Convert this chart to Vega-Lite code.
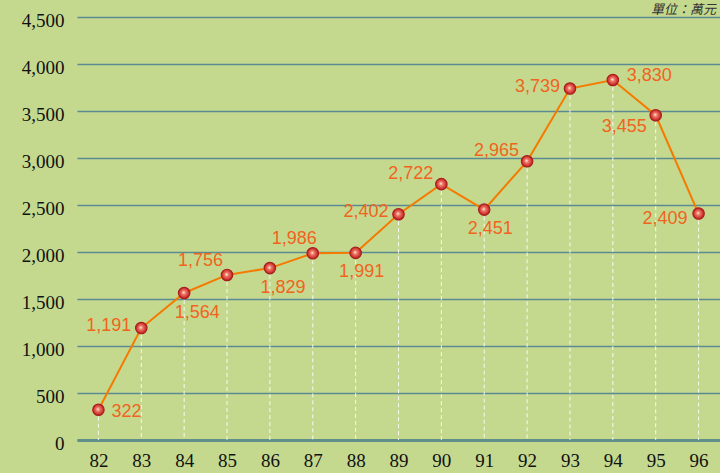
{
  "$schema": "https://vega.github.io/schema/vega-lite/v6.json",
  "width": 643,
  "height": 423,
  "autosize": {"type": "none"},
  "padding": {"left": 77, "top": 17, "right": 0, "bottom": 33},
  "background": "#c5d98e",
  "title": {"text": "單位：萬元", "anchor": "end", "orient": "top", "frame": "group", "font": "Noto Sans CJK TC", "fontSize": 13, "fontWeight": "normal", "fontStyle": "italic", "color": "#333333", "offset": 0, "baseline": "bottom", "dx": -4, "dy": 19},
  "config": {"view": {"stroke": null}},
  "data": {"values": [
    {"year": "82", "value": 322},
    {"year": "83", "value": 1191},
    {"year": "84", "value": 1564},
    {"year": "85", "value": 1756},
    {"year": "86", "value": 1829},
    {"year": "87", "value": 1986},
    {"year": "88", "value": 1991},
    {"year": "89", "value": 2402},
    {"year": "90", "value": 2722},
    {"year": "91", "value": 2451},
    {"year": "92", "value": 2965},
    {"year": "93", "value": 3739},
    {"year": "94", "value": 3830},
    {"year": "95", "value": 3455},
    {"year": "96", "value": 2409}
  ]},
  "encoding": {
    "x": {"field": "year", "type": "ordinal", "scale": {"type": "point", "padding": 0.5},
      "axis": {"title": null, "labelAngle": 0, "labelFont": "Liberation Serif", "labelFontSize": 19, "labelColor": "#111111", "labelPadding": 11, "ticks": false, "domain": true, "domainColor": "#5f8f88", "domainWidth": 3, "grid": false}},
    "y": {"field": "value", "type": "quantitative", "scale": {"domain": [0, 4500]},
      "axis": {"title": null, "values": [0, 500, 1000, 1500, 2000, 2500, 3000, 3500, 4000, 4500], "format": ",d", "labelFont": "Liberation Serif", "labelFontSize": 19, "labelColor": "#111111", "labelPadding": 13, "labelOffset": 3, "ticks": false, "domain": false, "grid": true, "gridColor": "#5b8a93", "gridWidth": 1.6}}
  },
  "layer": [
    {"mark": {"type": "rule", "color": "#ffffff", "strokeDash": [4, 3], "strokeWidth": 1, "opacity": 0.85},
     "encoding": {"y2": {"datum": 0}}},
    {"mark": {"type": "line", "color": "#f47a00", "strokeWidth": 2}},
    {"mark": {"type": "point", "filled": true, "size": 130, "opacity": 1, "stroke": "#a81e1e", "strokeWidth": 1.2,
      "fill": {"gradient": "radial", "x1": 0.45, "y1": 0.45, "r1": 0, "x2": 0.5, "y2": 0.5, "r2": 0.55,
        "stops": [{"offset": 0, "color": "#fff2e6"}, {"offset": 0.3, "color": "#ee7a66"}, {"offset": 0.75, "color": "#cf3330"}, {"offset": 1, "color": "#b02222"}]}}},
    {"transform": [{"filter": {"field": "year", "oneOf": ["82"]}}],
     "mark": {"type": "text", "align": "left", "baseline": "middle", "dx": 13, "dy": 2, "font": "Liberation Sans", "fontSize": 18, "color": "#f0641e"},
     "encoding": {"text": {"field": "value", "format": ","}}},
    {"transform": [{"filter": {"field": "year", "oneOf": ["94"]}}],
     "mark": {"type": "text", "align": "left", "baseline": "middle", "dx": 14, "dy": -4, "font": "Liberation Sans", "fontSize": 18, "color": "#f0641e"},
     "encoding": {"text": {"field": "value", "format": ","}}},
    {"transform": [{"filter": {"field": "year", "oneOf": ["83", "89", "93"]}}],
     "mark": {"type": "text", "align": "right", "baseline": "middle", "dx": -10, "dy": -2, "font": "Liberation Sans", "fontSize": 18, "color": "#f0641e"},
     "encoding": {"text": {"field": "value", "format": ","}}},
    {"transform": [{"filter": {"field": "year", "oneOf": ["96"]}}],
     "mark": {"type": "text", "align": "right", "baseline": "middle", "dx": -11, "dy": 5, "font": "Liberation Sans", "fontSize": 18, "color": "#f0641e"},
     "encoding": {"text": {"field": "value", "format": ","}}},
    {"transform": [{"filter": {"field": "year", "oneOf": ["85"]}}],
     "mark": {"type": "text", "align": "right", "baseline": "middle", "dx": -4, "dy": -14, "font": "Liberation Sans", "fontSize": 18, "color": "#f0641e"},
     "encoding": {"text": {"field": "value", "format": ","}}},
    {"transform": [{"filter": {"field": "year", "oneOf": ["87"]}}],
     "mark": {"type": "text", "align": "right", "baseline": "middle", "dx": 4, "dy": -14, "font": "Liberation Sans", "fontSize": 18, "color": "#f0641e"},
     "encoding": {"text": {"field": "value", "format": ","}}},
    {"transform": [{"filter": {"field": "year", "oneOf": ["90", "92"]}}],
     "mark": {"type": "text", "align": "right", "baseline": "middle", "dx": -8, "dy": -10, "font": "Liberation Sans", "fontSize": 18, "color": "#f0641e"},
     "encoding": {"text": {"field": "value", "format": ","}}},
    {"transform": [{"filter": {"field": "year", "oneOf": ["84", "86"]}}],
     "mark": {"type": "text", "align": "center", "baseline": "middle", "dx": 13, "dy": 20, "font": "Liberation Sans", "fontSize": 18, "color": "#f0641e"},
     "encoding": {"text": {"field": "value", "format": ","}}},
    {"transform": [{"filter": {"field": "year", "oneOf": ["88", "91"]}}],
     "mark": {"type": "text", "align": "center", "baseline": "middle", "dx": 6, "dy": 19, "font": "Liberation Sans", "fontSize": 18, "color": "#f0641e"},
     "encoding": {"text": {"field": "value", "format": ","}}},
    {"transform": [{"filter": {"field": "year", "oneOf": ["95"]}}],
     "mark": {"type": "text", "align": "right", "baseline": "middle", "dx": -9, "dy": 12, "font": "Liberation Sans", "fontSize": 18, "color": "#f0641e"},
     "encoding": {"text": {"field": "value", "format": ","}}}
  ]
}
